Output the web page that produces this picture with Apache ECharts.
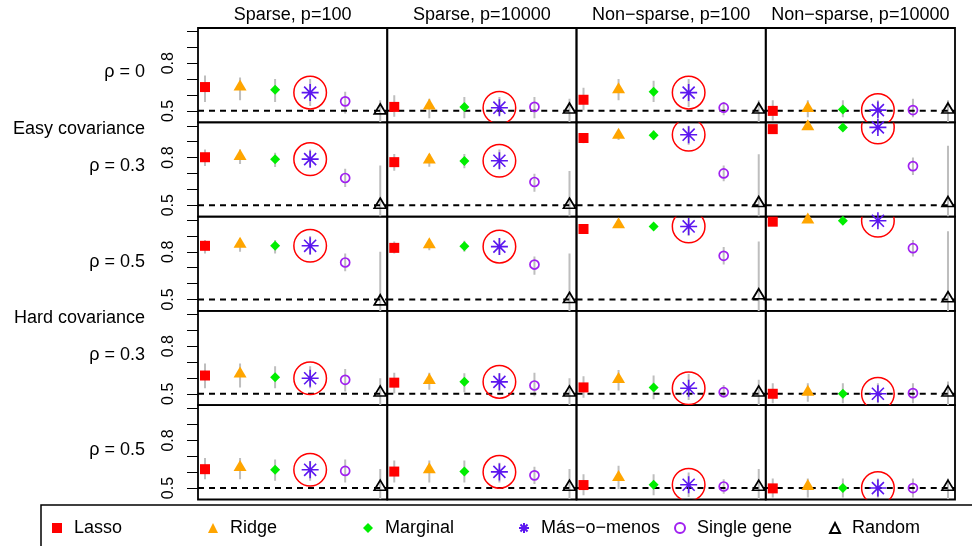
<!DOCTYPE html>
<html><head><meta charset="utf-8">
<script src="https://cdn.jsdelivr.net/npm/echarts@6/dist/echarts.min.js"></script>
<style>html,body{margin:0;padding:0;background:#fff}#c{width:972px;height:546px}</style>
</head><body><div id="c"></div>
<script>
// ---------------- DATA ----------------
const methods = ['Lasso', 'Ridge', 'Marginal', 'M\u00e1s\u2212o\u2212menos', 'Single gene', 'Random'];
const colTitles = ['Sparse, p=100', 'Sparse, p=10000', 'Non\u2212sparse, p=100', 'Non\u2212sparse, p=10000'];
const rowLabels = ['\u03c1 = 0', '\u03c1 = 0.3', '\u03c1 = 0.5', '\u03c1 = 0.3', '\u03c1 = 0.5'];
const groupLabels = ['Easy covariance', 'Hard covariance'];
const yTicks = [0.5, 0.6, 0.7, 0.8, 0.9, 1.0];
const yTickLabels = [0.5, 0.8];
const refLine = 0.5;

// each row: 4 panels (columns) x 6 methods
const mean_easy_rho0 = [
  [0.650, 0.650, 0.633, 0.615, 0.560, 0.500],
  [0.525, 0.530, 0.525, 0.520, 0.525, 0.505],
  [0.570, 0.633, 0.620, 0.615, 0.520, 0.505],
  [0.500, 0.515, 0.508, 0.505, 0.505, 0.505]];
const lo_easy_rho0 = [
  [0.556, 0.567, 0.556, 0.530, 0.483, 0.410],
  [0.463, 0.454, 0.454, 0.473, 0.454, 0.430],
  [0.504, 0.567, 0.556, 0.525, 0.473, 0.430],
  [0.440, 0.460, 0.460, 0.460, 0.460, 0.430]];
const hi_easy_rho0 = [
  [0.723, 0.710, 0.700, 0.700, 0.620, 0.567],
  [0.598, 0.577, 0.588, 0.588, 0.588, 0.577],
  [0.646, 0.700, 0.690, 0.700, 0.556, 0.567],
  [0.567, 0.567, 0.567, 0.567, 0.577, 0.567]];

const mean_easy_rho3 = [
  [0.802, 0.806, 0.790, 0.790, 0.671, 0.500],
  [0.771, 0.785, 0.779, 0.780, 0.646, 0.500],
  [0.923, 0.940, 0.940, 0.944, 0.700, 0.510],
  [0.979, 0.994, 0.990, 0.990, 0.746, 0.510]];
const lo_easy_rho3 = [
  [0.746, 0.760, 0.740, 0.740, 0.615, 0.400],
  [0.717, 0.742, 0.733, 0.730, 0.585, 0.400],
  [0.890, 0.910, 0.910, 0.880, 0.650, 0.400],
  [0.960, 0.980, 0.980, 0.960, 0.690, 0.400]];
const hi_easy_rho3 = [
  [0.850, 0.850, 0.830, 0.850, 0.730, 0.750],
  [0.823, 0.823, 0.823, 0.850, 0.698, 0.715],
  [0.950, 0.970, 0.970, 1.000, 0.750, 0.820],
  [0.995, 1.000, 1.000, 1.000, 0.800, 0.875]];

const mean_easy_rho5 = [
  [0.838, 0.848, 0.838, 0.838, 0.733, 0.485],
  [0.825, 0.844, 0.835, 0.833, 0.720, 0.500],
  [0.944, 0.970, 0.960, 0.960, 0.775, 0.523],
  [0.990, 1.000, 0.996, 0.996, 0.823, 0.505]];
const lo_easy_rho5 = [
  [0.790, 0.800, 0.790, 0.780, 0.677, 0.400],
  [0.790, 0.810, 0.800, 0.780, 0.656, 0.400],
  [0.920, 0.950, 0.940, 0.900, 0.720, 0.400],
  [0.980, 0.990, 0.985, 0.960, 0.770, 0.400]];
const hi_easy_rho5 = [
  [0.875, 0.885, 0.875, 0.900, 0.790, 0.800],
  [0.865, 0.875, 0.870, 0.885, 0.770, 0.790],
  [0.965, 0.990, 0.980, 1.000, 0.830, 0.865],
  [1.000, 1.000, 1.000, 1.000, 0.875, 0.930]];

const mean_hard_rho3 = [
  [0.615, 0.625, 0.604, 0.598, 0.588, 0.505],
  [0.570, 0.583, 0.575, 0.575, 0.552, 0.505],
  [0.540, 0.590, 0.540, 0.535, 0.510, 0.505],
  [0.500, 0.510, 0.500, 0.500, 0.504, 0.505]];
const lo_hard_rho3 = [
  [0.535, 0.540, 0.535, 0.535, 0.515, 0.430],
  [0.504, 0.525, 0.510, 0.515, 0.485, 0.430],
  [0.475, 0.520, 0.465, 0.460, 0.475, 0.430],
  [0.440, 0.450, 0.440, 0.440, 0.440, 0.430]];
const hi_hard_rho3 = [
  [0.690, 0.690, 0.673, 0.673, 0.656, 0.598],
  [0.633, 0.633, 0.630, 0.630, 0.633, 0.598],
  [0.610, 0.650, 0.615, 0.625, 0.556, 0.588],
  [0.567, 0.567, 0.567, 0.567, 0.567, 0.577]];

const mean_hard_rho5 = [
  [0.619, 0.630, 0.615, 0.615, 0.608, 0.505],
  [0.604, 0.615, 0.604, 0.602, 0.580, 0.505],
  [0.519, 0.567, 0.521, 0.521, 0.510, 0.505],
  [0.498, 0.510, 0.500, 0.500, 0.500, 0.505]];
const lo_hard_rho5 = [
  [0.556, 0.556, 0.546, 0.546, 0.535, 0.430],
  [0.535, 0.535, 0.535, 0.535, 0.525, 0.430],
  [0.454, 0.494, 0.454, 0.444, 0.465, 0.430],
  [0.440, 0.440, 0.440, 0.440, 0.440, 0.430]];
const hi_hard_rho5 = [
  [0.690, 0.690, 0.680, 0.670, 0.680, 0.620],
  [0.673, 0.673, 0.673, 0.660, 0.635, 0.620],
  [0.587, 0.640, 0.587, 0.598, 0.556, 0.620],
  [0.560, 0.560, 0.560, 0.560, 0.560, 0.560]];

// ---------------- LAYOUT / STYLE ----------------
const rowsMean = [mean_easy_rho0, mean_easy_rho3, mean_easy_rho5, mean_hard_rho3, mean_hard_rho5];
const rowsLo = [lo_easy_rho0, lo_easy_rho3, lo_easy_rho5, lo_hard_rho3, lo_hard_rho5];
const rowsHi = [hi_easy_rho0, hi_easy_rho3, hi_easy_rho5, hi_hard_rho3, hi_hard_rho5];

const FONT = 'Liberation Sans, Arial, Helvetica, sans-serif';
const G_LEFT = 198, G_TOP = 28, G_W = 189.25, G_H = 94.3;
const X_MIN = 0.8, X_MAX = 6.2, Y_MIN = 0.428, Y_MAX = 1.022;

const asteriskPath = 'path://M10 0L10 20M0 10L20 10M2.93 2.93L17.07 17.07M2.93 17.07L17.07 2.93';
const methodStyles = [
  { symbol: 'rect', symbolSize: 10, symbolOffset: [0, 0], itemStyle: { color: '#FF0000', borderWidth: 0, opacity: 1 } },
  { symbol: 'triangle', symbolSize: [13, 11], symbolOffset: [0, -2], itemStyle: { color: '#FFA500', borderWidth: 0, opacity: 1 } },
  { symbol: 'diamond', symbolSize: 10, symbolOffset: [0, 0], itemStyle: { color: '#00EE00', borderWidth: 0, opacity: 1 } },
  { symbol: asteriskPath, symbolSize: 17, symbolOffset: [0, 0], itemStyle: { color: 'rgba(0,0,0,0)', borderColor: '#5B16F0', borderWidth: 1.6, opacity: 1 } },
  { symbol: 'circle', symbolSize: 9, symbolOffset: [0, 0], itemStyle: { color: 'rgba(0,0,0,0)', borderColor: '#A020F0', borderWidth: 1.7, opacity: 1 } },
  { symbol: 'triangle', symbolSize: [12, 10], symbolOffset: [0, -2], itemStyle: { color: 'rgba(0,0,0,0)', borderColor: '#000000', borderWidth: 1.7, opacity: 1 } }
];
const legendX = [57, 213, 368, 523, 679, 834];

const grid = [], xAxis = [], yAxis = [], series = [];

function clipOf(params) {
  const cs = params.coordSys;
  return { type: 'rect', shape: { x: cs.x, y: cs.y, width: cs.width, height: cs.height } };
}

for (let r = 0; r < 5; r++) {
  for (let c = 0; c < 4; c++) {
    const k = r * 4 + c;
    grid.push({
      left: G_LEFT + c * G_W, top: G_TOP + r * G_H, width: G_W, height: G_H,
      show: true, borderColor: '#000', borderWidth: 1.8, backgroundColor: 'transparent',
      containLabel: false, outerBoundsMode: 'none'
    });
    xAxis.push({ gridIndex: k, type: 'value', min: X_MIN, max: X_MAX, show: false });
    const showY = c === 0;
    yAxis.push({
      gridIndex: k, type: 'value', min: Y_MIN, max: Y_MAX, show: showY, position: 'left',
      axisLine: { show: false }, splitLine: { show: false },
      axisTick: { show: showY, customValues: yTicks, length: 11, lineStyle: { color: '#000', width: 1 } },
      axisLabel: { show: showY, customValues: yTickLabels, rotate: 90, margin: 21, fontSize: 16,
        fontFamily: FONT, color: '#000', formatter: v => Number(v).toFixed(1) }
    });

    const mean = rowsMean[r][c], lo = rowsLo[r][c], hi = rowsHi[r][c];

    // error bars
    series.push({
      type: 'custom', xAxisIndex: k, yAxisIndex: k, z: 1, silent: true, clip: true,
      data: methods.map((m, i) => [i + 1, lo[i], hi[i]]),
      renderItem: (params, api) => {
        const p1 = api.coord([api.value(0), api.value(1)]);
        const p2 = api.coord([api.value(0), api.value(2)]);
        return { type: 'line', shape: { x1: p1[0], y1: p1[1], x2: p2[0], y2: p2[1] },
          style: { stroke: '#BEBEBE', lineWidth: 2 }, clipPath: clipOf(params) };
      }
    });
    // dashed reference line
    series.push({
      type: 'custom', xAxisIndex: k, yAxisIndex: k, z: 2, silent: true,
      data: [[X_MIN, refLine, X_MAX]],
      renderItem: (params, api) => {
        const a = api.coord([api.value(0), api.value(1)]);
        const b = api.coord([api.value(2), api.value(1)]);
        return { type: 'line', shape: { x1: a[0], y1: a[1], x2: b[0], y2: b[1] },
          style: { stroke: '#000', lineWidth: 2, lineDash: [6, 5] } };
      }
    });
    // points
    methods.forEach((m, i) => {
      const st = methodStyles[i];
      series.push({
        type: 'scatter', name: m, xAxisIndex: k, yAxisIndex: k, z: 3, silent: true,
        symbol: st.symbol, symbolSize: st.symbolSize, symbolOffset: st.symbolOffset,
        itemStyle: st.itemStyle, data: [[i + 1, mean[i]]], animation: false
      });
    });
    // red highlight circle around Más-o-menos
    series.push({
      type: 'custom', xAxisIndex: k, yAxisIndex: k, z: 4, silent: true, clip: true,
      data: [[4, mean[3]]],
      renderItem: (params, api) => {
        const p = api.coord([api.value(0), api.value(1)]);
        return { type: 'circle', shape: { cx: p[0], cy: p[1], r: 16.3 },
          style: { fill: 'none', stroke: '#FF0000', lineWidth: 1.5 }, clipPath: clipOf(params) };
      }
    });
  }
}

const graphic = [];
colTitles.forEach((t, c) => {
  graphic.push({ type: 'text', x: G_LEFT + (c + 0.5) * G_W, y: 15,
    style: { text: t, font: '18px ' + FONT, fill: '#000', textAlign: 'center', textVerticalAlign: 'middle' } });
});
const rowLabelY = [72, 166, 262, 355, 450];
rowLabels.forEach((t, r) => {
  graphic.push({ type: 'text', x: 145, y: rowLabelY[r],
    style: { text: t, font: '18px ' + FONT, fill: '#000', textAlign: 'right', textVerticalAlign: 'middle' } });
});
const groupLabelY = [129, 318];
groupLabels.forEach((t, g) => {
  graphic.push({ type: 'text', x: 145, y: groupLabelY[g],
    style: { text: t, font: '18px ' + FONT, fill: '#000', textAlign: 'right', textVerticalAlign: 'middle' } });
});
graphic.push({ type: 'rect', shape: { x: 41, y: 505, width: 960, height: 80 },
  style: { fill: 'none', stroke: '#000', lineWidth: 1.5 }, silent: true });

const legend = methods.map((m, i) => ({
  data: [m], left: legendX[i] - 5, top: 519, itemWidth: 10, itemHeight: 10, padding: 0, itemGap: 0,
  selectedMode: false, textStyle: { fontSize: 18, fontFamily: FONT, color: '#000', padding: [0, 0, 0, 7] }
}));

const chart = echarts.init(document.getElementById('c'), null, { renderer: 'canvas' });
chart.setOption({
  animation: false, backgroundColor: '#fff',
  grid, xAxis, yAxis, series, graphic, legend
});
</script></body></html>
